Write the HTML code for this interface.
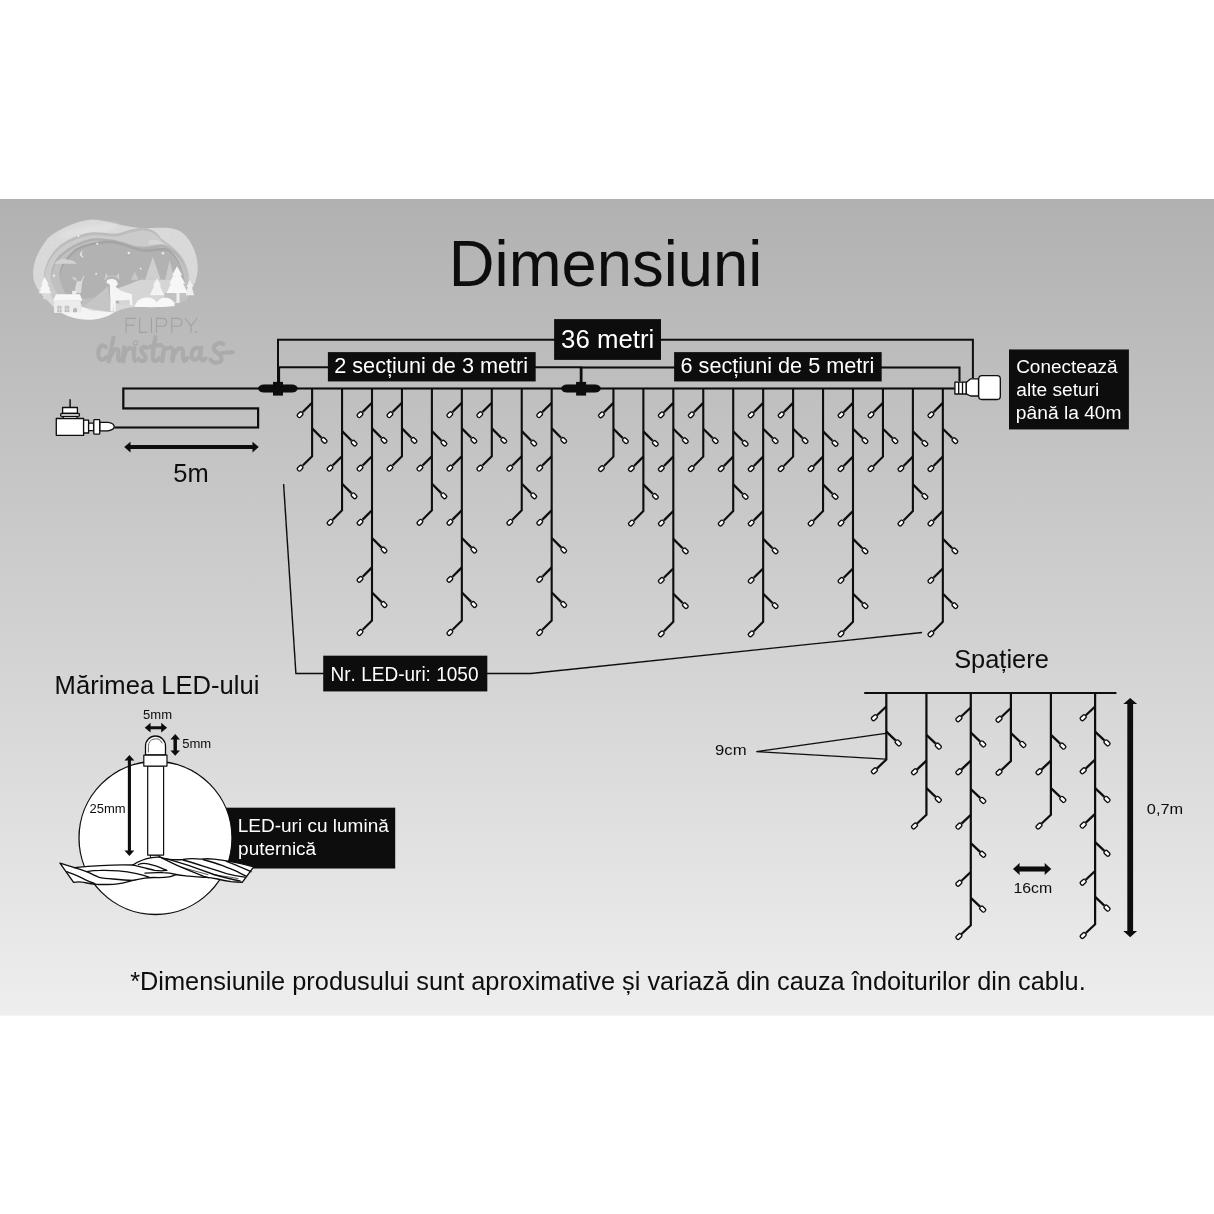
<!DOCTYPE html>
<html lang="ro"><head><meta charset="utf-8"><title>Dimensiuni</title>
<style>
html,body{margin:0;padding:0;background:#fff;}
body{width:1214px;height:1214px;overflow:hidden;position:relative;font-family:"Liberation Sans",sans-serif;}
svg{position:absolute;left:0;top:0;display:block;}
svg text{font-family:"Liberation Sans",sans-serif;font-kerning:none;}
</style></head><body>
<svg width="1214" height="1214" viewBox="0 0 1214 1214">
<defs>
<linearGradient id="bg" x1="0" y1="0" x2="0" y2="1">
<stop offset="0" stop-color="#b1b1b1"/><stop offset="1" stop-color="#eeeeee"/>
</linearGradient>
<filter id="b1" x="-10%" y="-10%" width="120%" height="120%"><feGaussianBlur stdDeviation="0.5"/></filter>
<filter id="b2" x="-10%" y="-10%" width="120%" height="120%"><feGaussianBlur stdDeviation="1.1"/></filter>
<filter id="lb" x="-5%" y="-5%" width="110%" height="110%"><feGaussianBlur stdDeviation="3.2"/></filter>
<filter id="lb2" x="-5%" y="-10%" width="110%" height="120%"><feGaussianBlur stdDeviation="3"/></filter>
<filter id="lb3" x="-30%" y="-60%" width="160%" height="220%"><feGaussianBlur stdDeviation="14"/></filter>
<filter id="soft" x="0" y="0" width="100%" height="100%" filterUnits="userSpaceOnUse"><feGaussianBlur stdDeviation="0.35"/></filter>
</defs>
<rect x="0" y="0" width="1214" height="1214" fill="#fff"/>
<rect x="0" y="199" width="1214" height="816.6" fill="url(#bg)"/>

<!--LOGO-->
<g id="logo">
<g transform="translate(25,210) scale(0.14828)" filter="url(#lb)">
<!-- outer blob -->
<path fill="#d9d9d9" d="M55,440 C55,370 70,300 150,195 C220,130 380,60 470,65 C540,68 600,95 760,120 C830,128 980,105 1040,140 C1120,185 1165,300 1165,390 C1165,470 1130,560 1040,620 C960,655 820,655 740,655 C640,660 600,700 540,720 C470,745 380,740 330,725 C250,700 200,670 180,640 C130,590 55,520 55,440 Z"/>
<ellipse cx="430" cy="140" rx="200" ry="30" fill="#e1e1e1" transform="rotate(-10 430 140)" filter="url(#lb3)"/>
<!-- layer 2 -->
<path fill="#bcbcbc" d="M130,470 C120,400 160,300 240,235 C300,190 400,150 470,150 C540,150 600,168 640,155 C700,135 760,118 800,120 C860,125 900,160 915,190 C980,240 1100,300 1110,480 L1060,600 L200,620 Z"/>
<path transform="translate(3,18)" fill="#cbcbcb" d="M130,470 C120,400 160,300 240,235 C300,190 400,150 470,150 C540,150 600,168 640,155 C700,135 760,118 800,120 C860,125 900,160 915,190 C980,240 1100,300 1110,480 L1060,600 L200,620 Z"/>
<path fill="#d6d6d6" d="M830,215 C850,195 900,190 940,230 L830,232 Z"/>
<!-- layer 3 -->
<path fill="#b0b0b0" d="M175,470 C170,400 200,330 250,290 C300,245 400,190 480,190 C560,190 640,205 700,230 C760,255 840,250 900,235 C940,225 1000,260 1040,310 C1080,360 1105,430 1100,500 L1040,600 L250,620 Z"/>
<path transform="translate(3,18)" fill="#c0c0c0" d="M175,470 C170,400 200,330 250,290 C300,245 400,190 480,190 C560,190 640,205 700,230 C760,255 840,250 900,235 C940,225 1000,260 1040,310 C1080,360 1105,430 1100,500 L1040,600 L250,620 Z"/>
<!-- inner -->
<path fill="#a4a4a4" d="M235,470 C225,400 250,340 340,262 C400,225 500,205 580,207 C650,212 740,260 800,265 C860,268 920,245 960,260 C1010,285 1060,370 1075,470 L1000,600 L300,620 Z"/>
<path transform="translate(3,18)" fill="#b2b2b2" d="M235,470 C225,400 250,340 340,262 C400,225 500,205 580,207 C650,212 740,260 800,265 C860,268 920,245 960,260 C1010,285 1060,370 1075,470 L1000,600 L300,620 Z"/>
<!-- cloud -->
<path fill="#d2d2d2" d="M200,362 C215,335 260,325 290,335 C320,335 340,350 350,362 Z"/>
<!-- moon -->
<path fill="#e6e6e6" d="M386,280 C368,290 368,312 392,318 C378,306 376,292 386,280 Z" stroke="#e6e6e6" stroke-width="6" stroke-linejoin="round"/>
<!-- gray trees -->
<path fill="#cfcfcf" d="M862,315 L915,470 L810,470 Z"/>
<path fill="#cbcbcb" d="M975,340 L1010,470 L945,470 Z"/>
<path fill="#c8c8c8" d="M740,415 L765,470 L715,470 Z"/>
<!-- hills -->
<path fill="#c5c5c5" d="M385,655 L470,590 L560,515 L585,690 L480,672 Z"/>
<path fill="#bdbdbd" d="M380,600 L470,590 L385,655 Z"/>
<path fill="#d5d5d5" d="M610,530 C680,515 740,480 780,470 C830,470 900,470 1040,470 L1040,620 L640,640 Z"/>
<path fill="#c2c2c2" d="M940,560 L1110,560 L1090,610 L940,630 Z"/>
<!-- small deer -->
<path fill="#dadada" d="M350,480 L375,480 L385,470 L400,440 L385,490 L378,560 L335,560 L340,520 Z"/>
<path fill="none" stroke="#d6d6d6" stroke-width="7" d="M335,452 L345,478 M320,455 L338,470 M398,445 L382,478"/>
<!-- left tree -->
<path fill="#f6f6f6" d="M132,452 L160,500 L150,500 L172,535 L160,535 L180,562 L92,562 L110,535 L100,535 L120,500 L110,500 Z"/>
<rect x="124" y="560" width="16" height="42" fill="#dcdcdc"/>
<!-- house -->
<rect x="318" y="545" width="28" height="26" fill="#ededed"/>
<path fill="#f7f7f7" d="M188,612 L210,568 L370,568 L388,612 Z"/>
<rect x="196" y="612" width="180" height="82" fill="#ececec"/>
<rect x="218" y="646" width="28" height="44" fill="#bcbcbc"/>
<rect x="268" y="646" width="30" height="44" fill="#bcbcbc"/>
<path stroke="#ececec" stroke-width="4" d="M232,646 V690 M283,646 V690 M218,668 H246 M268,668 H298"/>
<path fill="#b9b9b9" d="M325,672 C330,655 350,655 352,675 C352,695 340,700 333,712 C325,700 322,690 325,672 Z"/>
<!-- bottom snow -->
<path fill="#f4f4f4" d="M240,690 L376,690 L380,655 C420,660 450,690 480,680 C520,685 560,690 600,690 C570,715 500,742 430,740 C340,738 280,715 240,690 Z"/>
<!-- big deer -->
<path fill="#f5f5f5" d="M556,470 C575,462 605,462 618,478 L628,500 L612,515 C625,545 680,555 722,570 L724,640 L708,640 L704,605 L612,612 L612,682 L598,682 L598,630 L590,682 L576,682 L576,600 C572,560 574,520 572,502 L548,490 Z"/>
<path fill="none" stroke="#bdbdbd" stroke-width="12" stroke-linecap="round" d="M548,458 C560,440 600,440 620,456"/>
<path fill="none" stroke="#e6e6e6" stroke-width="5" d="M540,470 L548,440 M632,468 L628,438 M556,452 L545,430 M618,452 L632,430"/>
<!-- white trees -->
<path fill="#f7f7f7" d="M1025,380 L1060,440 L1048,440 L1080,495 L1066,495 L1098,560 L955,560 L985,495 L972,495 L1002,440 L992,440 Z"/>
<path fill="#f3f3f3" d="M890,460 L918,510 L908,510 L940,575 L842,575 L872,510 L862,510 Z"/>
<path fill="#efefef" d="M1110,468 L1135,520 L1125,520 L1140,575 L1085,575 L1098,520 L1090,520 Z"/>
<rect x="1022" y="558" width="20" height="68" fill="#f1f1f1"/>
<rect x="880" y="575" width="12" height="40" fill="#d8d8d8"/>
<!-- snow mounds -->
<path fill="#f8f8f8" d="M740,655 C745,610 790,585 830,590 C865,592 880,610 888,625 C900,598 940,585 970,595 C1000,605 1010,630 1010,648 C940,658 820,656 740,655 Z"/>
<!-- stars -->
<g fill="#eeeeee">
<circle cx="360" cy="175" r="7"/><circle cx="487" cy="228" r="7"/><circle cx="700" cy="290" r="8"/><circle cx="930" cy="292" r="8"/>
<circle cx="195" cy="443" r="8"/><circle cx="480" cy="430" r="6"/><circle cx="780" cy="395" r="6"/>
</g>
<g fill="#e4e4e4"><circle cx="180" cy="220" r="6"/><circle cx="465" cy="80" r="6"/><circle cx="965" cy="165" r="6"/><circle cx="120" cy="320" r="6"/><circle cx="1075" cy="270" r="5"/></g>
</g>
<!-- FLIPPY. -->
<g transform="translate(90,310) scale(0.12356)" fill="none" stroke="#a1a1a1" stroke-width="9" filter="url(#lb2)">
<path d="M292,185 V68 H370 M292,122 H360"/>
<path d="M402,65 V181 H462"/>
<path d="M497,65 V185"/>
<path d="M538,185 V68 H585 C632,68 632,132 585,132 H538"/>
<path d="M662,185 V68 H709 C756,68 756,132 709,132 H662"/>
<path d="M768,65 L818,130 L868,65 M818,130 V185"/>
<circle cx="855" cy="180" r="3" fill="#a1a1a1"/>
</g>
<!-- christmas -->
<g transform="translate(90,310) scale(0.12356)" fill="none" stroke="#ababab" stroke-width="34" stroke-linecap="round" stroke-linejoin="round" filter="url(#lb2)">
<path d="M128,300 C110,275 70,285 68,345 C66,405 100,420 135,380"/>
<path d="M190,225 C175,300 160,360 150,415 C170,350 205,300 225,320 C240,340 215,390 235,410 C245,415 255,400 262,385"/>
<path d="M275,300 C270,340 268,380 270,415 C275,350 300,300 330,310"/>
<path d="M360,310 C352,350 350,390 365,412"/><circle cx="368" cy="268" r="6"/>
<path d="M455,305 C430,290 405,310 420,340 C440,365 465,385 440,408 C420,420 400,410 392,395"/>
<path d="M530,220 C515,290 505,350 510,395 C515,425 545,415 560,390 M478,300 C510,290 540,285 575,285"/>
<path d="M585,415 C590,370 595,330 600,305 C610,330 640,290 665,310 C685,330 660,380 668,412 C675,350 710,295 740,312 C765,330 745,385 760,410 C770,415 782,400 790,388"/>
<path d="M895,320 C870,290 825,310 822,360 C820,410 860,420 890,370 C895,340 898,320 900,305 C892,350 890,400 912,410 C922,412 930,400 935,392"/>
<path d="M1078,275 C1050,255 990,280 1005,322 C1025,352 1080,368 1062,408 C1042,438 988,428 975,402 M1060,350 C1095,345 1130,344 1155,342"/>
</g>
</g>

<g filter="url(#soft)">
<text transform="translate(448.80,285.85) scale(0.9814,1)" font-size="64.6" fill="#0d0d0d">Dimensiuni</text>
<g fill="none" stroke="#0d0d0d" stroke-width="2.0">
<polyline points="278.0,388.5 278.0,339.8 972.9,339.8 972.9,378.5"/>
<polyline points="278.0,367.3 581.1,367.3 581.1,388.5"/>
<polyline points="581.1,367.4 959.5,367.4 959.5,381.6"/>
<line x1="278.8" y1="367.3" x2="278.8" y2="388.5" stroke-width="2.6"/>
<line x1="581.1" y1="367.3" x2="581.1" y2="388.5" stroke-width="2.7"/>
</g>
<g fill="none" stroke="#0d0d0d" stroke-width="2.2">
<polyline points="114.3,427.5 258.1,427.5 258.1,408.3 123.3,408.3 123.3,388.5 954.5,388.5"/>
</g>
<rect x="258.00" y="384.50" width="39.8" height="8.0" rx="6" ry="4.0" fill="#0d0d0d"/><rect x="273.00" y="381.90" width="10" height="13.7" fill="#0d0d0d"/>
<rect x="561.10" y="384.50" width="39.8" height="8.0" rx="6" ry="4.0" fill="#0d0d0d"/><rect x="576.10" y="381.90" width="10" height="13.7" fill="#0d0d0d"/>
<polyline points="312.10,388.50 312.10,456.20 302.74,465.56" fill="none" stroke="#0d0d0d" stroke-width="2.1" stroke-linejoin="miter"/>
<line x1="312.10" y1="402.70" x2="302.74" y2="412.06" stroke="#0d0d0d" stroke-width="2.3"/>
<line x1="312.10" y1="428.40" x2="321.46" y2="437.76" stroke="#0d0d0d" stroke-width="2.3"/>
<rect x="-2.95" y="-1.95" width="5.9" height="3.9" rx="1.5" transform="translate(300.10,414.70) rotate(135.0)" fill="#fff" stroke="#0d0d0d" stroke-width="1.35"/>
<rect x="-2.95" y="-1.95" width="5.9" height="3.9" rx="1.5" transform="translate(324.10,440.40) rotate(45.0)" fill="#fff" stroke="#0d0d0d" stroke-width="1.35"/>
<rect x="-2.95" y="-1.95" width="5.9" height="3.9" rx="1.5" transform="translate(300.10,468.20) rotate(135.0)" fill="#fff" stroke="#0d0d0d" stroke-width="1.35"/>
<polyline points="342.05,388.50 342.05,510.30 332.69,519.66" fill="none" stroke="#0d0d0d" stroke-width="2.1" stroke-linejoin="miter"/>
<line x1="342.05" y1="431.10" x2="351.41" y2="440.46" stroke="#0d0d0d" stroke-width="2.3"/>
<line x1="342.05" y1="456.20" x2="332.69" y2="465.56" stroke="#0d0d0d" stroke-width="2.3"/>
<line x1="342.05" y1="483.80" x2="351.41" y2="493.16" stroke="#0d0d0d" stroke-width="2.3"/>
<rect x="-2.95" y="-1.95" width="5.9" height="3.9" rx="1.5" transform="translate(354.05,443.10) rotate(45.0)" fill="#fff" stroke="#0d0d0d" stroke-width="1.35"/>
<rect x="-2.95" y="-1.95" width="5.9" height="3.9" rx="1.5" transform="translate(330.05,468.20) rotate(135.0)" fill="#fff" stroke="#0d0d0d" stroke-width="1.35"/>
<rect x="-2.95" y="-1.95" width="5.9" height="3.9" rx="1.5" transform="translate(354.05,495.80) rotate(45.0)" fill="#fff" stroke="#0d0d0d" stroke-width="1.35"/>
<rect x="-2.95" y="-1.95" width="5.9" height="3.9" rx="1.5" transform="translate(330.05,522.30) rotate(135.0)" fill="#fff" stroke="#0d0d0d" stroke-width="1.35"/>
<polyline points="372.00,388.50 372.00,620.50 362.64,629.86" fill="none" stroke="#0d0d0d" stroke-width="2.1" stroke-linejoin="miter"/>
<line x1="372.00" y1="402.70" x2="362.64" y2="412.06" stroke="#0d0d0d" stroke-width="2.3"/>
<line x1="372.00" y1="428.40" x2="381.36" y2="437.76" stroke="#0d0d0d" stroke-width="2.3"/>
<line x1="372.00" y1="456.20" x2="362.64" y2="465.56" stroke="#0d0d0d" stroke-width="2.3"/>
<line x1="372.00" y1="510.30" x2="362.64" y2="519.66" stroke="#0d0d0d" stroke-width="2.3"/>
<line x1="372.00" y1="538.00" x2="381.36" y2="547.36" stroke="#0d0d0d" stroke-width="2.3"/>
<line x1="372.00" y1="567.40" x2="362.64" y2="576.76" stroke="#0d0d0d" stroke-width="2.3"/>
<line x1="372.00" y1="592.50" x2="381.36" y2="601.86" stroke="#0d0d0d" stroke-width="2.3"/>
<rect x="-2.95" y="-1.95" width="5.9" height="3.9" rx="1.5" transform="translate(360.00,414.70) rotate(135.0)" fill="#fff" stroke="#0d0d0d" stroke-width="1.35"/>
<rect x="-2.95" y="-1.95" width="5.9" height="3.9" rx="1.5" transform="translate(384.00,440.40) rotate(45.0)" fill="#fff" stroke="#0d0d0d" stroke-width="1.35"/>
<rect x="-2.95" y="-1.95" width="5.9" height="3.9" rx="1.5" transform="translate(360.00,468.20) rotate(135.0)" fill="#fff" stroke="#0d0d0d" stroke-width="1.35"/>
<rect x="-2.95" y="-1.95" width="5.9" height="3.9" rx="1.5" transform="translate(360.00,522.30) rotate(135.0)" fill="#fff" stroke="#0d0d0d" stroke-width="1.35"/>
<rect x="-2.95" y="-1.95" width="5.9" height="3.9" rx="1.5" transform="translate(384.00,550.00) rotate(45.0)" fill="#fff" stroke="#0d0d0d" stroke-width="1.35"/>
<rect x="-2.95" y="-1.95" width="5.9" height="3.9" rx="1.5" transform="translate(360.00,579.40) rotate(135.0)" fill="#fff" stroke="#0d0d0d" stroke-width="1.35"/>
<rect x="-2.95" y="-1.95" width="5.9" height="3.9" rx="1.5" transform="translate(384.00,604.50) rotate(45.0)" fill="#fff" stroke="#0d0d0d" stroke-width="1.35"/>
<rect x="-2.95" y="-1.95" width="5.9" height="3.9" rx="1.5" transform="translate(360.00,632.50) rotate(135.0)" fill="#fff" stroke="#0d0d0d" stroke-width="1.35"/>
<polyline points="401.95,388.50 401.95,456.20 392.59,465.56" fill="none" stroke="#0d0d0d" stroke-width="2.1" stroke-linejoin="miter"/>
<line x1="401.95" y1="402.70" x2="392.59" y2="412.06" stroke="#0d0d0d" stroke-width="2.3"/>
<line x1="401.95" y1="428.40" x2="411.31" y2="437.76" stroke="#0d0d0d" stroke-width="2.3"/>
<rect x="-2.95" y="-1.95" width="5.9" height="3.9" rx="1.5" transform="translate(389.95,414.70) rotate(135.0)" fill="#fff" stroke="#0d0d0d" stroke-width="1.35"/>
<rect x="-2.95" y="-1.95" width="5.9" height="3.9" rx="1.5" transform="translate(413.95,440.40) rotate(45.0)" fill="#fff" stroke="#0d0d0d" stroke-width="1.35"/>
<rect x="-2.95" y="-1.95" width="5.9" height="3.9" rx="1.5" transform="translate(389.95,468.20) rotate(135.0)" fill="#fff" stroke="#0d0d0d" stroke-width="1.35"/>
<polyline points="431.90,388.50 431.90,510.30 422.54,519.66" fill="none" stroke="#0d0d0d" stroke-width="2.1" stroke-linejoin="miter"/>
<line x1="431.90" y1="431.10" x2="441.26" y2="440.46" stroke="#0d0d0d" stroke-width="2.3"/>
<line x1="431.90" y1="456.20" x2="422.54" y2="465.56" stroke="#0d0d0d" stroke-width="2.3"/>
<line x1="431.90" y1="483.80" x2="441.26" y2="493.16" stroke="#0d0d0d" stroke-width="2.3"/>
<rect x="-2.95" y="-1.95" width="5.9" height="3.9" rx="1.5" transform="translate(443.90,443.10) rotate(45.0)" fill="#fff" stroke="#0d0d0d" stroke-width="1.35"/>
<rect x="-2.95" y="-1.95" width="5.9" height="3.9" rx="1.5" transform="translate(419.90,468.20) rotate(135.0)" fill="#fff" stroke="#0d0d0d" stroke-width="1.35"/>
<rect x="-2.95" y="-1.95" width="5.9" height="3.9" rx="1.5" transform="translate(443.90,495.80) rotate(45.0)" fill="#fff" stroke="#0d0d0d" stroke-width="1.35"/>
<rect x="-2.95" y="-1.95" width="5.9" height="3.9" rx="1.5" transform="translate(419.90,522.30) rotate(135.0)" fill="#fff" stroke="#0d0d0d" stroke-width="1.35"/>
<polyline points="461.85,388.50 461.85,620.50 452.49,629.86" fill="none" stroke="#0d0d0d" stroke-width="2.1" stroke-linejoin="miter"/>
<line x1="461.85" y1="402.70" x2="452.49" y2="412.06" stroke="#0d0d0d" stroke-width="2.3"/>
<line x1="461.85" y1="428.40" x2="471.21" y2="437.76" stroke="#0d0d0d" stroke-width="2.3"/>
<line x1="461.85" y1="456.20" x2="452.49" y2="465.56" stroke="#0d0d0d" stroke-width="2.3"/>
<line x1="461.85" y1="510.30" x2="452.49" y2="519.66" stroke="#0d0d0d" stroke-width="2.3"/>
<line x1="461.85" y1="538.00" x2="471.21" y2="547.36" stroke="#0d0d0d" stroke-width="2.3"/>
<line x1="461.85" y1="567.40" x2="452.49" y2="576.76" stroke="#0d0d0d" stroke-width="2.3"/>
<line x1="461.85" y1="592.50" x2="471.21" y2="601.86" stroke="#0d0d0d" stroke-width="2.3"/>
<rect x="-2.95" y="-1.95" width="5.9" height="3.9" rx="1.5" transform="translate(449.85,414.70) rotate(135.0)" fill="#fff" stroke="#0d0d0d" stroke-width="1.35"/>
<rect x="-2.95" y="-1.95" width="5.9" height="3.9" rx="1.5" transform="translate(473.85,440.40) rotate(45.0)" fill="#fff" stroke="#0d0d0d" stroke-width="1.35"/>
<rect x="-2.95" y="-1.95" width="5.9" height="3.9" rx="1.5" transform="translate(449.85,468.20) rotate(135.0)" fill="#fff" stroke="#0d0d0d" stroke-width="1.35"/>
<rect x="-2.95" y="-1.95" width="5.9" height="3.9" rx="1.5" transform="translate(449.85,522.30) rotate(135.0)" fill="#fff" stroke="#0d0d0d" stroke-width="1.35"/>
<rect x="-2.95" y="-1.95" width="5.9" height="3.9" rx="1.5" transform="translate(473.85,550.00) rotate(45.0)" fill="#fff" stroke="#0d0d0d" stroke-width="1.35"/>
<rect x="-2.95" y="-1.95" width="5.9" height="3.9" rx="1.5" transform="translate(449.85,579.40) rotate(135.0)" fill="#fff" stroke="#0d0d0d" stroke-width="1.35"/>
<rect x="-2.95" y="-1.95" width="5.9" height="3.9" rx="1.5" transform="translate(473.85,604.50) rotate(45.0)" fill="#fff" stroke="#0d0d0d" stroke-width="1.35"/>
<rect x="-2.95" y="-1.95" width="5.9" height="3.9" rx="1.5" transform="translate(449.85,632.50) rotate(135.0)" fill="#fff" stroke="#0d0d0d" stroke-width="1.35"/>
<polyline points="491.80,388.50 491.80,456.20 482.44,465.56" fill="none" stroke="#0d0d0d" stroke-width="2.1" stroke-linejoin="miter"/>
<line x1="491.80" y1="402.70" x2="482.44" y2="412.06" stroke="#0d0d0d" stroke-width="2.3"/>
<line x1="491.80" y1="428.40" x2="501.16" y2="437.76" stroke="#0d0d0d" stroke-width="2.3"/>
<rect x="-2.95" y="-1.95" width="5.9" height="3.9" rx="1.5" transform="translate(479.80,414.70) rotate(135.0)" fill="#fff" stroke="#0d0d0d" stroke-width="1.35"/>
<rect x="-2.95" y="-1.95" width="5.9" height="3.9" rx="1.5" transform="translate(503.80,440.40) rotate(45.0)" fill="#fff" stroke="#0d0d0d" stroke-width="1.35"/>
<rect x="-2.95" y="-1.95" width="5.9" height="3.9" rx="1.5" transform="translate(479.80,468.20) rotate(135.0)" fill="#fff" stroke="#0d0d0d" stroke-width="1.35"/>
<polyline points="521.75,388.50 521.75,510.30 512.39,519.66" fill="none" stroke="#0d0d0d" stroke-width="2.1" stroke-linejoin="miter"/>
<line x1="521.75" y1="431.10" x2="531.11" y2="440.46" stroke="#0d0d0d" stroke-width="2.3"/>
<line x1="521.75" y1="456.20" x2="512.39" y2="465.56" stroke="#0d0d0d" stroke-width="2.3"/>
<line x1="521.75" y1="483.80" x2="531.11" y2="493.16" stroke="#0d0d0d" stroke-width="2.3"/>
<rect x="-2.95" y="-1.95" width="5.9" height="3.9" rx="1.5" transform="translate(533.75,443.10) rotate(45.0)" fill="#fff" stroke="#0d0d0d" stroke-width="1.35"/>
<rect x="-2.95" y="-1.95" width="5.9" height="3.9" rx="1.5" transform="translate(509.75,468.20) rotate(135.0)" fill="#fff" stroke="#0d0d0d" stroke-width="1.35"/>
<rect x="-2.95" y="-1.95" width="5.9" height="3.9" rx="1.5" transform="translate(533.75,495.80) rotate(45.0)" fill="#fff" stroke="#0d0d0d" stroke-width="1.35"/>
<rect x="-2.95" y="-1.95" width="5.9" height="3.9" rx="1.5" transform="translate(509.75,522.30) rotate(135.0)" fill="#fff" stroke="#0d0d0d" stroke-width="1.35"/>
<polyline points="551.70,388.50 551.70,620.50 542.34,629.86" fill="none" stroke="#0d0d0d" stroke-width="2.1" stroke-linejoin="miter"/>
<line x1="551.70" y1="402.70" x2="542.34" y2="412.06" stroke="#0d0d0d" stroke-width="2.3"/>
<line x1="551.70" y1="428.40" x2="561.06" y2="437.76" stroke="#0d0d0d" stroke-width="2.3"/>
<line x1="551.70" y1="456.20" x2="542.34" y2="465.56" stroke="#0d0d0d" stroke-width="2.3"/>
<line x1="551.70" y1="510.30" x2="542.34" y2="519.66" stroke="#0d0d0d" stroke-width="2.3"/>
<line x1="551.70" y1="538.00" x2="561.06" y2="547.36" stroke="#0d0d0d" stroke-width="2.3"/>
<line x1="551.70" y1="567.40" x2="542.34" y2="576.76" stroke="#0d0d0d" stroke-width="2.3"/>
<line x1="551.70" y1="592.50" x2="561.06" y2="601.86" stroke="#0d0d0d" stroke-width="2.3"/>
<rect x="-2.95" y="-1.95" width="5.9" height="3.9" rx="1.5" transform="translate(539.70,414.70) rotate(135.0)" fill="#fff" stroke="#0d0d0d" stroke-width="1.35"/>
<rect x="-2.95" y="-1.95" width="5.9" height="3.9" rx="1.5" transform="translate(563.70,440.40) rotate(45.0)" fill="#fff" stroke="#0d0d0d" stroke-width="1.35"/>
<rect x="-2.95" y="-1.95" width="5.9" height="3.9" rx="1.5" transform="translate(539.70,468.20) rotate(135.0)" fill="#fff" stroke="#0d0d0d" stroke-width="1.35"/>
<rect x="-2.95" y="-1.95" width="5.9" height="3.9" rx="1.5" transform="translate(539.70,522.30) rotate(135.0)" fill="#fff" stroke="#0d0d0d" stroke-width="1.35"/>
<rect x="-2.95" y="-1.95" width="5.9" height="3.9" rx="1.5" transform="translate(563.70,550.00) rotate(45.0)" fill="#fff" stroke="#0d0d0d" stroke-width="1.35"/>
<rect x="-2.95" y="-1.95" width="5.9" height="3.9" rx="1.5" transform="translate(539.70,579.40) rotate(135.0)" fill="#fff" stroke="#0d0d0d" stroke-width="1.35"/>
<rect x="-2.95" y="-1.95" width="5.9" height="3.9" rx="1.5" transform="translate(563.70,604.50) rotate(45.0)" fill="#fff" stroke="#0d0d0d" stroke-width="1.35"/>
<rect x="-2.95" y="-1.95" width="5.9" height="3.9" rx="1.5" transform="translate(539.70,632.50) rotate(135.0)" fill="#fff" stroke="#0d0d0d" stroke-width="1.35"/>
<polyline points="613.40,388.50 613.40,456.64 604.04,466.00" fill="none" stroke="#0d0d0d" stroke-width="2.1" stroke-linejoin="miter"/>
<line x1="613.40" y1="402.84" x2="604.04" y2="412.20" stroke="#0d0d0d" stroke-width="2.3"/>
<line x1="613.40" y1="428.69" x2="622.76" y2="438.05" stroke="#0d0d0d" stroke-width="2.3"/>
<rect x="-2.95" y="-1.95" width="5.9" height="3.9" rx="1.5" transform="translate(601.40,414.84) rotate(135.0)" fill="#fff" stroke="#0d0d0d" stroke-width="1.35"/>
<rect x="-2.95" y="-1.95" width="5.9" height="3.9" rx="1.5" transform="translate(625.40,440.69) rotate(45.0)" fill="#fff" stroke="#0d0d0d" stroke-width="1.35"/>
<rect x="-2.95" y="-1.95" width="5.9" height="3.9" rx="1.5" transform="translate(601.40,468.64) rotate(135.0)" fill="#fff" stroke="#0d0d0d" stroke-width="1.35"/>
<polyline points="643.35,388.50 643.35,511.04 633.99,520.40" fill="none" stroke="#0d0d0d" stroke-width="2.1" stroke-linejoin="miter"/>
<line x1="643.35" y1="431.40" x2="652.71" y2="440.76" stroke="#0d0d0d" stroke-width="2.3"/>
<line x1="643.35" y1="456.64" x2="633.99" y2="466.00" stroke="#0d0d0d" stroke-width="2.3"/>
<line x1="643.35" y1="484.39" x2="652.71" y2="493.75" stroke="#0d0d0d" stroke-width="2.3"/>
<rect x="-2.95" y="-1.95" width="5.9" height="3.9" rx="1.5" transform="translate(655.35,443.40) rotate(45.0)" fill="#fff" stroke="#0d0d0d" stroke-width="1.35"/>
<rect x="-2.95" y="-1.95" width="5.9" height="3.9" rx="1.5" transform="translate(631.35,468.64) rotate(135.0)" fill="#fff" stroke="#0d0d0d" stroke-width="1.35"/>
<rect x="-2.95" y="-1.95" width="5.9" height="3.9" rx="1.5" transform="translate(655.35,496.39) rotate(45.0)" fill="#fff" stroke="#0d0d0d" stroke-width="1.35"/>
<rect x="-2.95" y="-1.95" width="5.9" height="3.9" rx="1.5" transform="translate(631.35,523.04) rotate(135.0)" fill="#fff" stroke="#0d0d0d" stroke-width="1.35"/>
<polyline points="673.30,388.50 673.30,621.84 663.94,631.20" fill="none" stroke="#0d0d0d" stroke-width="2.1" stroke-linejoin="miter"/>
<line x1="673.30" y1="402.84" x2="663.94" y2="412.20" stroke="#0d0d0d" stroke-width="2.3"/>
<line x1="673.30" y1="428.69" x2="682.66" y2="438.05" stroke="#0d0d0d" stroke-width="2.3"/>
<line x1="673.30" y1="456.64" x2="663.94" y2="466.00" stroke="#0d0d0d" stroke-width="2.3"/>
<line x1="673.30" y1="511.04" x2="663.94" y2="520.40" stroke="#0d0d0d" stroke-width="2.3"/>
<line x1="673.30" y1="538.89" x2="682.66" y2="548.25" stroke="#0d0d0d" stroke-width="2.3"/>
<line x1="673.30" y1="568.45" x2="663.94" y2="577.81" stroke="#0d0d0d" stroke-width="2.3"/>
<line x1="673.30" y1="593.69" x2="682.66" y2="603.05" stroke="#0d0d0d" stroke-width="2.3"/>
<rect x="-2.95" y="-1.95" width="5.9" height="3.9" rx="1.5" transform="translate(661.30,414.84) rotate(135.0)" fill="#fff" stroke="#0d0d0d" stroke-width="1.35"/>
<rect x="-2.95" y="-1.95" width="5.9" height="3.9" rx="1.5" transform="translate(685.30,440.69) rotate(45.0)" fill="#fff" stroke="#0d0d0d" stroke-width="1.35"/>
<rect x="-2.95" y="-1.95" width="5.9" height="3.9" rx="1.5" transform="translate(661.30,468.64) rotate(135.0)" fill="#fff" stroke="#0d0d0d" stroke-width="1.35"/>
<rect x="-2.95" y="-1.95" width="5.9" height="3.9" rx="1.5" transform="translate(661.30,523.04) rotate(135.0)" fill="#fff" stroke="#0d0d0d" stroke-width="1.35"/>
<rect x="-2.95" y="-1.95" width="5.9" height="3.9" rx="1.5" transform="translate(685.30,550.89) rotate(45.0)" fill="#fff" stroke="#0d0d0d" stroke-width="1.35"/>
<rect x="-2.95" y="-1.95" width="5.9" height="3.9" rx="1.5" transform="translate(661.30,580.45) rotate(135.0)" fill="#fff" stroke="#0d0d0d" stroke-width="1.35"/>
<rect x="-2.95" y="-1.95" width="5.9" height="3.9" rx="1.5" transform="translate(685.30,605.69) rotate(45.0)" fill="#fff" stroke="#0d0d0d" stroke-width="1.35"/>
<rect x="-2.95" y="-1.95" width="5.9" height="3.9" rx="1.5" transform="translate(661.30,633.84) rotate(135.0)" fill="#fff" stroke="#0d0d0d" stroke-width="1.35"/>
<polyline points="703.25,388.50 703.25,456.64 693.89,466.00" fill="none" stroke="#0d0d0d" stroke-width="2.1" stroke-linejoin="miter"/>
<line x1="703.25" y1="402.84" x2="693.89" y2="412.20" stroke="#0d0d0d" stroke-width="2.3"/>
<line x1="703.25" y1="428.69" x2="712.61" y2="438.05" stroke="#0d0d0d" stroke-width="2.3"/>
<rect x="-2.95" y="-1.95" width="5.9" height="3.9" rx="1.5" transform="translate(691.25,414.84) rotate(135.0)" fill="#fff" stroke="#0d0d0d" stroke-width="1.35"/>
<rect x="-2.95" y="-1.95" width="5.9" height="3.9" rx="1.5" transform="translate(715.25,440.69) rotate(45.0)" fill="#fff" stroke="#0d0d0d" stroke-width="1.35"/>
<rect x="-2.95" y="-1.95" width="5.9" height="3.9" rx="1.5" transform="translate(691.25,468.64) rotate(135.0)" fill="#fff" stroke="#0d0d0d" stroke-width="1.35"/>
<polyline points="733.20,388.50 733.20,511.04 723.84,520.40" fill="none" stroke="#0d0d0d" stroke-width="2.1" stroke-linejoin="miter"/>
<line x1="733.20" y1="431.40" x2="742.56" y2="440.76" stroke="#0d0d0d" stroke-width="2.3"/>
<line x1="733.20" y1="456.64" x2="723.84" y2="466.00" stroke="#0d0d0d" stroke-width="2.3"/>
<line x1="733.20" y1="484.39" x2="742.56" y2="493.75" stroke="#0d0d0d" stroke-width="2.3"/>
<rect x="-2.95" y="-1.95" width="5.9" height="3.9" rx="1.5" transform="translate(745.20,443.40) rotate(45.0)" fill="#fff" stroke="#0d0d0d" stroke-width="1.35"/>
<rect x="-2.95" y="-1.95" width="5.9" height="3.9" rx="1.5" transform="translate(721.20,468.64) rotate(135.0)" fill="#fff" stroke="#0d0d0d" stroke-width="1.35"/>
<rect x="-2.95" y="-1.95" width="5.9" height="3.9" rx="1.5" transform="translate(745.20,496.39) rotate(45.0)" fill="#fff" stroke="#0d0d0d" stroke-width="1.35"/>
<rect x="-2.95" y="-1.95" width="5.9" height="3.9" rx="1.5" transform="translate(721.20,523.04) rotate(135.0)" fill="#fff" stroke="#0d0d0d" stroke-width="1.35"/>
<polyline points="763.15,388.50 763.15,621.84 753.79,631.20" fill="none" stroke="#0d0d0d" stroke-width="2.1" stroke-linejoin="miter"/>
<line x1="763.15" y1="402.84" x2="753.79" y2="412.20" stroke="#0d0d0d" stroke-width="2.3"/>
<line x1="763.15" y1="428.69" x2="772.51" y2="438.05" stroke="#0d0d0d" stroke-width="2.3"/>
<line x1="763.15" y1="456.64" x2="753.79" y2="466.00" stroke="#0d0d0d" stroke-width="2.3"/>
<line x1="763.15" y1="511.04" x2="753.79" y2="520.40" stroke="#0d0d0d" stroke-width="2.3"/>
<line x1="763.15" y1="538.89" x2="772.51" y2="548.25" stroke="#0d0d0d" stroke-width="2.3"/>
<line x1="763.15" y1="568.45" x2="753.79" y2="577.81" stroke="#0d0d0d" stroke-width="2.3"/>
<line x1="763.15" y1="593.69" x2="772.51" y2="603.05" stroke="#0d0d0d" stroke-width="2.3"/>
<rect x="-2.95" y="-1.95" width="5.9" height="3.9" rx="1.5" transform="translate(751.15,414.84) rotate(135.0)" fill="#fff" stroke="#0d0d0d" stroke-width="1.35"/>
<rect x="-2.95" y="-1.95" width="5.9" height="3.9" rx="1.5" transform="translate(775.15,440.69) rotate(45.0)" fill="#fff" stroke="#0d0d0d" stroke-width="1.35"/>
<rect x="-2.95" y="-1.95" width="5.9" height="3.9" rx="1.5" transform="translate(751.15,468.64) rotate(135.0)" fill="#fff" stroke="#0d0d0d" stroke-width="1.35"/>
<rect x="-2.95" y="-1.95" width="5.9" height="3.9" rx="1.5" transform="translate(751.15,523.04) rotate(135.0)" fill="#fff" stroke="#0d0d0d" stroke-width="1.35"/>
<rect x="-2.95" y="-1.95" width="5.9" height="3.9" rx="1.5" transform="translate(775.15,550.89) rotate(45.0)" fill="#fff" stroke="#0d0d0d" stroke-width="1.35"/>
<rect x="-2.95" y="-1.95" width="5.9" height="3.9" rx="1.5" transform="translate(751.15,580.45) rotate(135.0)" fill="#fff" stroke="#0d0d0d" stroke-width="1.35"/>
<rect x="-2.95" y="-1.95" width="5.9" height="3.9" rx="1.5" transform="translate(775.15,605.69) rotate(45.0)" fill="#fff" stroke="#0d0d0d" stroke-width="1.35"/>
<rect x="-2.95" y="-1.95" width="5.9" height="3.9" rx="1.5" transform="translate(751.15,633.84) rotate(135.0)" fill="#fff" stroke="#0d0d0d" stroke-width="1.35"/>
<polyline points="793.10,388.50 793.10,456.64 783.74,466.00" fill="none" stroke="#0d0d0d" stroke-width="2.1" stroke-linejoin="miter"/>
<line x1="793.10" y1="402.84" x2="783.74" y2="412.20" stroke="#0d0d0d" stroke-width="2.3"/>
<line x1="793.10" y1="428.69" x2="802.46" y2="438.05" stroke="#0d0d0d" stroke-width="2.3"/>
<rect x="-2.95" y="-1.95" width="5.9" height="3.9" rx="1.5" transform="translate(781.10,414.84) rotate(135.0)" fill="#fff" stroke="#0d0d0d" stroke-width="1.35"/>
<rect x="-2.95" y="-1.95" width="5.9" height="3.9" rx="1.5" transform="translate(805.10,440.69) rotate(45.0)" fill="#fff" stroke="#0d0d0d" stroke-width="1.35"/>
<rect x="-2.95" y="-1.95" width="5.9" height="3.9" rx="1.5" transform="translate(781.10,468.64) rotate(135.0)" fill="#fff" stroke="#0d0d0d" stroke-width="1.35"/>
<polyline points="823.05,388.50 823.05,511.04 813.69,520.40" fill="none" stroke="#0d0d0d" stroke-width="2.1" stroke-linejoin="miter"/>
<line x1="823.05" y1="431.40" x2="832.41" y2="440.76" stroke="#0d0d0d" stroke-width="2.3"/>
<line x1="823.05" y1="456.64" x2="813.69" y2="466.00" stroke="#0d0d0d" stroke-width="2.3"/>
<line x1="823.05" y1="484.39" x2="832.41" y2="493.75" stroke="#0d0d0d" stroke-width="2.3"/>
<rect x="-2.95" y="-1.95" width="5.9" height="3.9" rx="1.5" transform="translate(835.05,443.40) rotate(45.0)" fill="#fff" stroke="#0d0d0d" stroke-width="1.35"/>
<rect x="-2.95" y="-1.95" width="5.9" height="3.9" rx="1.5" transform="translate(811.05,468.64) rotate(135.0)" fill="#fff" stroke="#0d0d0d" stroke-width="1.35"/>
<rect x="-2.95" y="-1.95" width="5.9" height="3.9" rx="1.5" transform="translate(835.05,496.39) rotate(45.0)" fill="#fff" stroke="#0d0d0d" stroke-width="1.35"/>
<rect x="-2.95" y="-1.95" width="5.9" height="3.9" rx="1.5" transform="translate(811.05,523.04) rotate(135.0)" fill="#fff" stroke="#0d0d0d" stroke-width="1.35"/>
<polyline points="853.00,388.50 853.00,621.84 843.64,631.20" fill="none" stroke="#0d0d0d" stroke-width="2.1" stroke-linejoin="miter"/>
<line x1="853.00" y1="402.84" x2="843.64" y2="412.20" stroke="#0d0d0d" stroke-width="2.3"/>
<line x1="853.00" y1="428.69" x2="862.36" y2="438.05" stroke="#0d0d0d" stroke-width="2.3"/>
<line x1="853.00" y1="456.64" x2="843.64" y2="466.00" stroke="#0d0d0d" stroke-width="2.3"/>
<line x1="853.00" y1="511.04" x2="843.64" y2="520.40" stroke="#0d0d0d" stroke-width="2.3"/>
<line x1="853.00" y1="538.89" x2="862.36" y2="548.25" stroke="#0d0d0d" stroke-width="2.3"/>
<line x1="853.00" y1="568.45" x2="843.64" y2="577.81" stroke="#0d0d0d" stroke-width="2.3"/>
<line x1="853.00" y1="593.69" x2="862.36" y2="603.05" stroke="#0d0d0d" stroke-width="2.3"/>
<rect x="-2.95" y="-1.95" width="5.9" height="3.9" rx="1.5" transform="translate(841.00,414.84) rotate(135.0)" fill="#fff" stroke="#0d0d0d" stroke-width="1.35"/>
<rect x="-2.95" y="-1.95" width="5.9" height="3.9" rx="1.5" transform="translate(865.00,440.69) rotate(45.0)" fill="#fff" stroke="#0d0d0d" stroke-width="1.35"/>
<rect x="-2.95" y="-1.95" width="5.9" height="3.9" rx="1.5" transform="translate(841.00,468.64) rotate(135.0)" fill="#fff" stroke="#0d0d0d" stroke-width="1.35"/>
<rect x="-2.95" y="-1.95" width="5.9" height="3.9" rx="1.5" transform="translate(841.00,523.04) rotate(135.0)" fill="#fff" stroke="#0d0d0d" stroke-width="1.35"/>
<rect x="-2.95" y="-1.95" width="5.9" height="3.9" rx="1.5" transform="translate(865.00,550.89) rotate(45.0)" fill="#fff" stroke="#0d0d0d" stroke-width="1.35"/>
<rect x="-2.95" y="-1.95" width="5.9" height="3.9" rx="1.5" transform="translate(841.00,580.45) rotate(135.0)" fill="#fff" stroke="#0d0d0d" stroke-width="1.35"/>
<rect x="-2.95" y="-1.95" width="5.9" height="3.9" rx="1.5" transform="translate(865.00,605.69) rotate(45.0)" fill="#fff" stroke="#0d0d0d" stroke-width="1.35"/>
<rect x="-2.95" y="-1.95" width="5.9" height="3.9" rx="1.5" transform="translate(841.00,633.84) rotate(135.0)" fill="#fff" stroke="#0d0d0d" stroke-width="1.35"/>
<polyline points="882.95,388.50 882.95,456.64 873.59,466.00" fill="none" stroke="#0d0d0d" stroke-width="2.1" stroke-linejoin="miter"/>
<line x1="882.95" y1="402.84" x2="873.59" y2="412.20" stroke="#0d0d0d" stroke-width="2.3"/>
<line x1="882.95" y1="428.69" x2="892.31" y2="438.05" stroke="#0d0d0d" stroke-width="2.3"/>
<rect x="-2.95" y="-1.95" width="5.9" height="3.9" rx="1.5" transform="translate(870.95,414.84) rotate(135.0)" fill="#fff" stroke="#0d0d0d" stroke-width="1.35"/>
<rect x="-2.95" y="-1.95" width="5.9" height="3.9" rx="1.5" transform="translate(894.95,440.69) rotate(45.0)" fill="#fff" stroke="#0d0d0d" stroke-width="1.35"/>
<rect x="-2.95" y="-1.95" width="5.9" height="3.9" rx="1.5" transform="translate(870.95,468.64) rotate(135.0)" fill="#fff" stroke="#0d0d0d" stroke-width="1.35"/>
<polyline points="912.90,388.50 912.90,511.04 903.54,520.40" fill="none" stroke="#0d0d0d" stroke-width="2.1" stroke-linejoin="miter"/>
<line x1="912.90" y1="431.40" x2="922.26" y2="440.76" stroke="#0d0d0d" stroke-width="2.3"/>
<line x1="912.90" y1="456.64" x2="903.54" y2="466.00" stroke="#0d0d0d" stroke-width="2.3"/>
<line x1="912.90" y1="484.39" x2="922.26" y2="493.75" stroke="#0d0d0d" stroke-width="2.3"/>
<rect x="-2.95" y="-1.95" width="5.9" height="3.9" rx="1.5" transform="translate(924.90,443.40) rotate(45.0)" fill="#fff" stroke="#0d0d0d" stroke-width="1.35"/>
<rect x="-2.95" y="-1.95" width="5.9" height="3.9" rx="1.5" transform="translate(900.90,468.64) rotate(135.0)" fill="#fff" stroke="#0d0d0d" stroke-width="1.35"/>
<rect x="-2.95" y="-1.95" width="5.9" height="3.9" rx="1.5" transform="translate(924.90,496.39) rotate(45.0)" fill="#fff" stroke="#0d0d0d" stroke-width="1.35"/>
<rect x="-2.95" y="-1.95" width="5.9" height="3.9" rx="1.5" transform="translate(900.90,523.04) rotate(135.0)" fill="#fff" stroke="#0d0d0d" stroke-width="1.35"/>
<polyline points="942.85,388.50 942.85,621.84 933.49,631.20" fill="none" stroke="#0d0d0d" stroke-width="2.1" stroke-linejoin="miter"/>
<line x1="942.85" y1="402.84" x2="933.49" y2="412.20" stroke="#0d0d0d" stroke-width="2.3"/>
<line x1="942.85" y1="428.69" x2="952.21" y2="438.05" stroke="#0d0d0d" stroke-width="2.3"/>
<line x1="942.85" y1="456.64" x2="933.49" y2="466.00" stroke="#0d0d0d" stroke-width="2.3"/>
<line x1="942.85" y1="511.04" x2="933.49" y2="520.40" stroke="#0d0d0d" stroke-width="2.3"/>
<line x1="942.85" y1="538.89" x2="952.21" y2="548.25" stroke="#0d0d0d" stroke-width="2.3"/>
<line x1="942.85" y1="568.45" x2="933.49" y2="577.81" stroke="#0d0d0d" stroke-width="2.3"/>
<line x1="942.85" y1="593.69" x2="952.21" y2="603.05" stroke="#0d0d0d" stroke-width="2.3"/>
<rect x="-2.95" y="-1.95" width="5.9" height="3.9" rx="1.5" transform="translate(930.85,414.84) rotate(135.0)" fill="#fff" stroke="#0d0d0d" stroke-width="1.35"/>
<rect x="-2.95" y="-1.95" width="5.9" height="3.9" rx="1.5" transform="translate(954.85,440.69) rotate(45.0)" fill="#fff" stroke="#0d0d0d" stroke-width="1.35"/>
<rect x="-2.95" y="-1.95" width="5.9" height="3.9" rx="1.5" transform="translate(930.85,468.64) rotate(135.0)" fill="#fff" stroke="#0d0d0d" stroke-width="1.35"/>
<rect x="-2.95" y="-1.95" width="5.9" height="3.9" rx="1.5" transform="translate(930.85,523.04) rotate(135.0)" fill="#fff" stroke="#0d0d0d" stroke-width="1.35"/>
<rect x="-2.95" y="-1.95" width="5.9" height="3.9" rx="1.5" transform="translate(954.85,550.89) rotate(45.0)" fill="#fff" stroke="#0d0d0d" stroke-width="1.35"/>
<rect x="-2.95" y="-1.95" width="5.9" height="3.9" rx="1.5" transform="translate(930.85,580.45) rotate(135.0)" fill="#fff" stroke="#0d0d0d" stroke-width="1.35"/>
<rect x="-2.95" y="-1.95" width="5.9" height="3.9" rx="1.5" transform="translate(954.85,605.69) rotate(45.0)" fill="#fff" stroke="#0d0d0d" stroke-width="1.35"/>
<rect x="-2.95" y="-1.95" width="5.9" height="3.9" rx="1.5" transform="translate(930.85,633.84) rotate(135.0)" fill="#fff" stroke="#0d0d0d" stroke-width="1.35"/>
<rect x="554.1" y="319.1" width="106.90" height="40.80" fill="#0d0d0d"/>
<text transform="translate(561.12,348.1) scale(1.0070,1)" font-size="25.6" fill="#fff">36 metri</text>
<rect x="327.9" y="352.1" width="207.80" height="29.30" fill="#0d0d0d"/>
<text transform="translate(334.21,373.0) scale(1.0039,1)" font-size="21.6" fill="#fff">2 secțiuni de 3 metri</text>
<rect x="674.1" y="352.1" width="207.60" height="29.30" fill="#0d0d0d"/>
<text transform="translate(680.50,373.0) scale(1.0035,1)" font-size="21.6" fill="#fff">6 secțiuni de 5 metri</text>
<rect x="1009" y="349.5" width="119.90" height="79.90" fill="#0d0d0d"/>
<text transform="translate(1016.13,373.2) scale(0.9902,1)" font-size="19.2" fill="#fff">Conectează</text>
<text transform="translate(1016.29,395.9) scale(0.9971,1)" font-size="19.2" fill="#fff">alte seturi</text>
<text transform="translate(1015.86,419.0) scale(1.0003,1)" font-size="19.2" fill="#fff">până la 40m</text>
<path d="M124.2,447.1 L130.5,441.75 L130.5,445.1 L252.5,445.1 L252.5,441.75 L258.8,447.1 L252.5,452.45000000000005 L252.5,449.1 L130.5,449.1 L130.5,452.45000000000005 Z" fill="#0d0d0d"/>
<text transform="translate(173.28,482.4) scale(1.0153,1)" font-size="25.1" fill="#0d0d0d">5m</text>
<g fill="#fff" stroke="#0d0d0d" stroke-width="1.3" stroke-linejoin="round">
<line x1="70.1" y1="399.3" x2="70.1" y2="407.5" stroke-width="1.5"/>
<rect x="63.2" y="416" width="13.8" height="3"/>
<rect x="62.6" y="407.5" width="14.8" height="6"/>
<rect x="60.6" y="413.5" width="18.9" height="2.8" rx="1.3"/>
<rect x="56.3" y="418.5" width="27.3" height="16.8"/>
<rect x="83.6" y="420.2" width="5" height="12.8"/>
<rect x="88.6" y="423.2" width="5" height="7.4"/>
<path d="M99.7,422.3 L108,422.3 Q114.2,423.3 114.2,426.6 Q114.2,429.9 108,430.9 L99.7,430.9 Z"/>
<rect x="93.8" y="419.6" width="5.9" height="14.6" rx="0.8"/>
</g>
<g fill="#fff" stroke="#0d0d0d" stroke-width="1.3" stroke-linejoin="round">
<rect x="954.9" y="382.2" width="11.4" height="11.8"/>
<line x1="958.7" y1="382.2" x2="958.7" y2="394"/><line x1="962.5" y1="382.2" x2="962.5" y2="394"/>
<path d="M966.3,382.6 L970.6,378.8 L978.5,378.8 L978.5,396 L970.6,396 L966.3,393.8 Z"/>
<rect x="978.7" y="375.6" width="21.6" height="23.9" rx="3.2"/>
</g>
<polyline points="283.6,484.1 295.9,673.5 530.7,673.5 922,632.5" fill="none" stroke="#0d0d0d" stroke-width="1.4"/>
<rect x="323.2" y="655.7" width="164.10" height="35.70" fill="#0d0d0d"/>
<text transform="translate(330.54,680.9) scale(0.9607,1)" font-size="19.8" fill="#fff">Nr. LED-uri: 1050</text>
<text transform="translate(954.15,667.7) scale(1.0008,1)" font-size="25.4" fill="#0d0d0d">Spațiere</text>
<line x1="864.2" y1="693" x2="1116.4" y2="693" stroke="#0d0d0d" stroke-width="2.0"/>
<polyline points="886.30,693.00 886.30,759.60 877.02,768.34" fill="none" stroke="#0d0d0d" stroke-width="2.2" stroke-linejoin="miter"/>
<line x1="886.30" y1="706.50" x2="877.02" y2="715.24" stroke="#0d0d0d" stroke-width="2.3"/>
<line x1="886.30" y1="731.70" x2="895.58" y2="740.44" stroke="#0d0d0d" stroke-width="2.3"/>
<rect x="-3.10" y="-2.00" width="6.2" height="4.0" rx="1.5" transform="translate(874.40,717.70) rotate(136.7357045889284)" fill="#fff" stroke="#0d0d0d" stroke-width="1.35"/>
<rect x="-3.10" y="-2.00" width="6.2" height="4.0" rx="1.5" transform="translate(898.20,742.90) rotate(43.26429541107161)" fill="#fff" stroke="#0d0d0d" stroke-width="1.35"/>
<rect x="-3.10" y="-2.00" width="6.2" height="4.0" rx="1.5" transform="translate(874.40,770.80) rotate(136.7357045889284)" fill="#fff" stroke="#0d0d0d" stroke-width="1.35"/>
<polyline points="926.40,693.00 926.40,814.80 917.12,823.54" fill="none" stroke="#0d0d0d" stroke-width="2.2" stroke-linejoin="miter"/>
<line x1="926.40" y1="734.90" x2="935.68" y2="743.64" stroke="#0d0d0d" stroke-width="2.3"/>
<line x1="926.40" y1="760.60" x2="917.12" y2="769.34" stroke="#0d0d0d" stroke-width="2.3"/>
<line x1="926.40" y1="788.20" x2="935.68" y2="796.94" stroke="#0d0d0d" stroke-width="2.3"/>
<rect x="-3.10" y="-2.00" width="6.2" height="4.0" rx="1.5" transform="translate(938.30,746.10) rotate(43.26429541107161)" fill="#fff" stroke="#0d0d0d" stroke-width="1.35"/>
<rect x="-3.10" y="-2.00" width="6.2" height="4.0" rx="1.5" transform="translate(914.50,771.80) rotate(136.7357045889284)" fill="#fff" stroke="#0d0d0d" stroke-width="1.35"/>
<rect x="-3.10" y="-2.00" width="6.2" height="4.0" rx="1.5" transform="translate(938.30,799.40) rotate(43.26429541107161)" fill="#fff" stroke="#0d0d0d" stroke-width="1.35"/>
<rect x="-3.10" y="-2.00" width="6.2" height="4.0" rx="1.5" transform="translate(914.50,826.00) rotate(136.7357045889284)" fill="#fff" stroke="#0d0d0d" stroke-width="1.35"/>
<polyline points="970.80,693.00 970.80,925.30 961.52,934.04" fill="none" stroke="#0d0d0d" stroke-width="2.2" stroke-linejoin="miter"/>
<line x1="970.80" y1="707.50" x2="961.52" y2="716.24" stroke="#0d0d0d" stroke-width="2.3"/>
<line x1="970.80" y1="732.70" x2="980.08" y2="741.44" stroke="#0d0d0d" stroke-width="2.3"/>
<line x1="970.80" y1="760.60" x2="961.52" y2="769.34" stroke="#0d0d0d" stroke-width="2.3"/>
<line x1="970.80" y1="789.20" x2="980.08" y2="797.94" stroke="#0d0d0d" stroke-width="2.3"/>
<line x1="970.80" y1="814.90" x2="961.52" y2="823.64" stroke="#0d0d0d" stroke-width="2.3"/>
<line x1="970.80" y1="843.10" x2="980.08" y2="851.84" stroke="#0d0d0d" stroke-width="2.3"/>
<line x1="970.80" y1="872.00" x2="961.52" y2="880.74" stroke="#0d0d0d" stroke-width="2.3"/>
<line x1="970.80" y1="897.90" x2="980.08" y2="906.64" stroke="#0d0d0d" stroke-width="2.3"/>
<rect x="-3.10" y="-2.00" width="6.2" height="4.0" rx="1.5" transform="translate(958.90,718.70) rotate(136.7357045889284)" fill="#fff" stroke="#0d0d0d" stroke-width="1.35"/>
<rect x="-3.10" y="-2.00" width="6.2" height="4.0" rx="1.5" transform="translate(982.70,743.90) rotate(43.26429541107161)" fill="#fff" stroke="#0d0d0d" stroke-width="1.35"/>
<rect x="-3.10" y="-2.00" width="6.2" height="4.0" rx="1.5" transform="translate(958.90,771.80) rotate(136.7357045889284)" fill="#fff" stroke="#0d0d0d" stroke-width="1.35"/>
<rect x="-3.10" y="-2.00" width="6.2" height="4.0" rx="1.5" transform="translate(982.70,800.40) rotate(43.26429541107161)" fill="#fff" stroke="#0d0d0d" stroke-width="1.35"/>
<rect x="-3.10" y="-2.00" width="6.2" height="4.0" rx="1.5" transform="translate(958.90,826.10) rotate(136.7357045889284)" fill="#fff" stroke="#0d0d0d" stroke-width="1.35"/>
<rect x="-3.10" y="-2.00" width="6.2" height="4.0" rx="1.5" transform="translate(982.70,854.30) rotate(43.26429541107161)" fill="#fff" stroke="#0d0d0d" stroke-width="1.35"/>
<rect x="-3.10" y="-2.00" width="6.2" height="4.0" rx="1.5" transform="translate(958.90,883.20) rotate(136.7357045889284)" fill="#fff" stroke="#0d0d0d" stroke-width="1.35"/>
<rect x="-3.10" y="-2.00" width="6.2" height="4.0" rx="1.5" transform="translate(982.70,909.10) rotate(43.26429541107161)" fill="#fff" stroke="#0d0d0d" stroke-width="1.35"/>
<rect x="-3.10" y="-2.00" width="6.2" height="4.0" rx="1.5" transform="translate(958.90,936.50) rotate(136.7357045889284)" fill="#fff" stroke="#0d0d0d" stroke-width="1.35"/>
<polyline points="1010.90,693.00 1010.90,761.10 1001.62,769.84" fill="none" stroke="#0d0d0d" stroke-width="2.2" stroke-linejoin="miter"/>
<line x1="1010.90" y1="708.00" x2="1001.62" y2="716.74" stroke="#0d0d0d" stroke-width="2.3"/>
<line x1="1010.90" y1="733.20" x2="1020.18" y2="741.94" stroke="#0d0d0d" stroke-width="2.3"/>
<rect x="-3.10" y="-2.00" width="6.2" height="4.0" rx="1.5" transform="translate(999.00,719.20) rotate(136.7357045889284)" fill="#fff" stroke="#0d0d0d" stroke-width="1.35"/>
<rect x="-3.10" y="-2.00" width="6.2" height="4.0" rx="1.5" transform="translate(1022.80,744.40) rotate(43.26429541107161)" fill="#fff" stroke="#0d0d0d" stroke-width="1.35"/>
<rect x="-3.10" y="-2.00" width="6.2" height="4.0" rx="1.5" transform="translate(999.00,772.30) rotate(136.7357045889284)" fill="#fff" stroke="#0d0d0d" stroke-width="1.35"/>
<polyline points="1050.90,693.00 1050.90,814.80 1041.62,823.54" fill="none" stroke="#0d0d0d" stroke-width="2.2" stroke-linejoin="miter"/>
<line x1="1050.90" y1="734.90" x2="1060.18" y2="743.64" stroke="#0d0d0d" stroke-width="2.3"/>
<line x1="1050.90" y1="760.60" x2="1041.62" y2="769.34" stroke="#0d0d0d" stroke-width="2.3"/>
<line x1="1050.90" y1="788.20" x2="1060.18" y2="796.94" stroke="#0d0d0d" stroke-width="2.3"/>
<rect x="-3.10" y="-2.00" width="6.2" height="4.0" rx="1.5" transform="translate(1062.80,746.10) rotate(43.26429541107161)" fill="#fff" stroke="#0d0d0d" stroke-width="1.35"/>
<rect x="-3.10" y="-2.00" width="6.2" height="4.0" rx="1.5" transform="translate(1039.00,771.80) rotate(136.7357045889284)" fill="#fff" stroke="#0d0d0d" stroke-width="1.35"/>
<rect x="-3.10" y="-2.00" width="6.2" height="4.0" rx="1.5" transform="translate(1062.80,799.40) rotate(43.26429541107161)" fill="#fff" stroke="#0d0d0d" stroke-width="1.35"/>
<rect x="-3.10" y="-2.00" width="6.2" height="4.0" rx="1.5" transform="translate(1039.00,826.00) rotate(136.7357045889284)" fill="#fff" stroke="#0d0d0d" stroke-width="1.35"/>
<polyline points="1095.10,693.00 1095.10,924.30 1085.82,933.04" fill="none" stroke="#0d0d0d" stroke-width="2.2" stroke-linejoin="miter"/>
<line x1="1095.10" y1="706.50" x2="1085.82" y2="715.24" stroke="#0d0d0d" stroke-width="2.3"/>
<line x1="1095.10" y1="731.70" x2="1104.38" y2="740.44" stroke="#0d0d0d" stroke-width="2.3"/>
<line x1="1095.10" y1="759.60" x2="1085.82" y2="768.34" stroke="#0d0d0d" stroke-width="2.3"/>
<line x1="1095.10" y1="788.20" x2="1104.38" y2="796.94" stroke="#0d0d0d" stroke-width="2.3"/>
<line x1="1095.10" y1="813.90" x2="1085.82" y2="822.64" stroke="#0d0d0d" stroke-width="2.3"/>
<line x1="1095.10" y1="842.10" x2="1104.38" y2="850.84" stroke="#0d0d0d" stroke-width="2.3"/>
<line x1="1095.10" y1="871.00" x2="1085.82" y2="879.74" stroke="#0d0d0d" stroke-width="2.3"/>
<line x1="1095.10" y1="896.90" x2="1104.38" y2="905.64" stroke="#0d0d0d" stroke-width="2.3"/>
<rect x="-3.10" y="-2.00" width="6.2" height="4.0" rx="1.5" transform="translate(1083.20,717.70) rotate(136.7357045889284)" fill="#fff" stroke="#0d0d0d" stroke-width="1.35"/>
<rect x="-3.10" y="-2.00" width="6.2" height="4.0" rx="1.5" transform="translate(1107.00,742.90) rotate(43.26429541107161)" fill="#fff" stroke="#0d0d0d" stroke-width="1.35"/>
<rect x="-3.10" y="-2.00" width="6.2" height="4.0" rx="1.5" transform="translate(1083.20,770.80) rotate(136.7357045889284)" fill="#fff" stroke="#0d0d0d" stroke-width="1.35"/>
<rect x="-3.10" y="-2.00" width="6.2" height="4.0" rx="1.5" transform="translate(1107.00,799.40) rotate(43.26429541107161)" fill="#fff" stroke="#0d0d0d" stroke-width="1.35"/>
<rect x="-3.10" y="-2.00" width="6.2" height="4.0" rx="1.5" transform="translate(1083.20,825.10) rotate(136.7357045889284)" fill="#fff" stroke="#0d0d0d" stroke-width="1.35"/>
<rect x="-3.10" y="-2.00" width="6.2" height="4.0" rx="1.5" transform="translate(1107.00,853.30) rotate(43.26429541107161)" fill="#fff" stroke="#0d0d0d" stroke-width="1.35"/>
<rect x="-3.10" y="-2.00" width="6.2" height="4.0" rx="1.5" transform="translate(1083.20,882.20) rotate(136.7357045889284)" fill="#fff" stroke="#0d0d0d" stroke-width="1.35"/>
<rect x="-3.10" y="-2.00" width="6.2" height="4.0" rx="1.5" transform="translate(1107.00,908.10) rotate(43.26429541107161)" fill="#fff" stroke="#0d0d0d" stroke-width="1.35"/>
<rect x="-3.10" y="-2.00" width="6.2" height="4.0" rx="1.5" transform="translate(1083.20,935.50) rotate(136.7357045889284)" fill="#fff" stroke="#0d0d0d" stroke-width="1.35"/>
<polyline points="885.8,733.4 756.3,751.6 885.8,759.1" fill="none" stroke="#0d0d0d" stroke-width="1.4"/>
<text transform="translate(715.02,754.7) scale(1.0928,1)" font-size="15.3" fill="#0d0d0d">9cm</text>
<path d="M1130.2,697.9 L1137.1000000000001,704.1 L1133.1000000000001,704.1 L1133.1000000000001,931.0 L1137.1000000000001,931.0 L1130.2,937.2 L1123.3,931.0 L1127.3,931.0 L1127.3,704.1 L1123.3,704.1 Z" fill="#0d0d0d"/>
<text transform="translate(1146.86,814.4) scale(1.0607,1)" font-size="15.4" fill="#0d0d0d">0,7m</text>
<path d="M1013,869 L1019.6,863.1 L1019.6,866.5 L1044.7,866.5 L1044.7,863.1 L1051.3,869 L1044.7,874.9 L1044.7,871.5 L1019.6,871.5 L1019.6,874.9 Z" fill="#0d0d0d"/>
<text transform="translate(1013.49,893.2) scale(1.0224,1)" font-size="15.5" fill="#0d0d0d">16cm</text>
<text transform="translate(54.60,693.8) scale(0.9926,1)" font-size="25.8" fill="#0d0d0d">Mărimea LED-ului</text>
<rect x="222" y="807.7" width="173.20" height="60.80" fill="#0d0d0d"/>
<circle cx="155.5" cy="838" r="76.5" fill="#fff" stroke="#0d0d0d" stroke-width="1.3"/>
<text transform="translate(237.74,832.3) scale(1.0004,1)" font-size="19.0" fill="#fff">LED-uri cu lumină</text>
<text transform="translate(238.08,855.2) scale(0.9995,1)" font-size="19.0" fill="#fff">puternică</text>
<g fill="#fff" stroke="#0d0d0d" stroke-width="1.2" stroke-linejoin="round">
<rect x="150.4" y="855" width="8.6" height="3.4" stroke-width="1"/>
<rect x="147.7" y="766" width="15.9" height="89.1"/>
<path d="M145.5,755 L145.5,746 A10,10 0 0 1 165.5,746 L165.5,755 Z" stroke-width="1.3"/>
<path d="M148.4,752.5 L148.4,746.5 A7.2,7.6 0 0 1 162.2,743.4" fill="none" stroke="#555" stroke-width="0.9"/>
<rect x="143.8" y="755.1" width="23.2" height="11"/>
</g>
<path d="M144.7,727.7 L150.6,722.825 L150.6,726.2 L161.2,726.2 L161.2,722.825 L167.1,727.7 L161.2,732.575 L161.2,729.2 L150.6,729.2 L150.6,732.575 Z" fill="#0d0d0d"/>
<text transform="translate(143.08,718.5) scale(1.0603,1)" font-size="12.3" fill="#0d0d0d">5mm</text>
<path d="M175.2,734.1 L180.0,739.4 L176.95,739.4 L176.95,750.4000000000001 L180.0,750.4000000000001 L175.2,755.7 L170.39999999999998,750.4000000000001 L173.45,750.4000000000001 L173.45,739.4 L170.39999999999998,739.4 Z" fill="#0d0d0d"/>
<text transform="translate(182.28,748.4) scale(1.0603,1)" font-size="12.3" fill="#0d0d0d">5mm</text>
<path d="M129.4,754.9 L134.35,760.5 L130.95000000000002,760.5 L130.95000000000002,850.4 L134.35,850.4 L129.4,856 L124.45,850.4 L127.85000000000001,850.4 L127.85000000000001,760.5 L124.45,760.5 Z" fill="#0d0d0d"/>
<text transform="translate(89.45,813.1) scale(1.0567,1)" font-size="12.3" fill="#0d0d0d">25mm</text>
<g stroke="#0d0d0d" stroke-width="1.35" stroke-linejoin="round" stroke-linecap="round" fill="none">
<path fill="#fff" d="M60,863.1 L74.5,867.7 C91,866 113,864.4 132.9,865 C138,861.5 145,858.6 152,857.6 L159.5,856.8 C166,859.5 176,860 183,859.5 C188,858.4 196,858.6 201.2,859.1 C205,858.6 210,858.7 213.9,859.1 C220,859.6 225,860.4 229.3,861.3 L241,863.6 L253.7,866.8 L242.4,882.2 C238,882.2 234,882 231.1,881.7 C226,880.8 222,880 217.5,879 C213,878.2 208,877.6 203.9,877.2 C196,877.2 190,876.2 185.8,875.8 C182,875.6 178,875 175.8,874.5 C172,877 166,877.6 158.6,877.6 C154,877.4 150,877.2 145,878.1 C141,878.8 137,879.6 132.9,880.4 C126,882.6 120,884 113,884.3 C107,884.6 100,884.6 94.9,884.3 C90,883.6 86,882.8 82.2,882.2 C79,881.6 76,881.8 73.6,882.4 Z"/>
<path d="M74.5,867.7 C80,869.4 83,870.4 86.7,871.7 C91,873.4 95,875.6 98.5,877.2 C103,878.4 108,878.8 113,879 C120,879.8 127,880.4 132.9,880.4"/>
<path d="M66.8,871.7 C72,873.6 77,875.8 82.2,878.1 C86,880 91,882.4 94.9,883.6"/>
<path d="M86.7,871.7 C92,870.6 96,870.4 100.3,870.4 C106,870.2 112,870.4 118.4,870.8 C125,871.4 131,872.4 136.6,873.6 C141,874.6 146,876 149.5,877.4"/>
<path d="M132.9,865 C137,866 141,867 145.6,868.1 C149,869 152,869.8 154.7,870.4 C159,871 163,871 166.7,870.4"/>
<path d="M138.4,864.5 C141,863.4 145,863.2 148,863.8 C151,864.4 153.5,865.2 155.9,865.9 C160,867.4 163,868.8 166.7,870.4"/>
<path d="M145,873.1 C151,872.6 157,872.4 163.1,872.7 C168,872.8 172,873.4 175.8,874.5"/>
<path d="M159.5,856.8 C166,860 174,864 181.2,867.2 C189,870.6 196,873.4 203.9,876.3 L208.4,877.6"/>
<path d="M165.8,858.6 C173,860.6 181,863 188.5,865.4 C197,868.4 206,871.6 213.9,874.5 C222,877 231,879.4 240.1,880.8"/>
<path d="M183,860 C190,861.8 197,864 203.9,866.3 C211,868.6 219,871.2 226.5,873.6 C232,875 238,876.2 244.7,877.2"/>
<path d="M203,859.5 C209,861.2 216,863.2 222,865.4 C227,867.4 232,869.4 237.4,871.7 C240,873 243,874.6 246.5,876.3"/>
<path d="M226.5,861.3 C231,863 236,865 240.1,866.8 C244,868.4 248,870.2 251,871.7"/>
<path d="M181.2,867.2 C190,869.6 199,872.2 208,874.6" stroke-width="0.7"/>
<path d="M213,874.6 C220,875.6 230,877 238,878.6" stroke-width="0.7"/>
</g>
<text transform="translate(130.19,990.4) scale(0.9758,1)" font-size="26.0" fill="#0d0d0d">*Dimensiunile produsului sunt aproximative și variază din cauza îndoiturilor din cablu.</text>
</g>
</svg>
</body></html>
